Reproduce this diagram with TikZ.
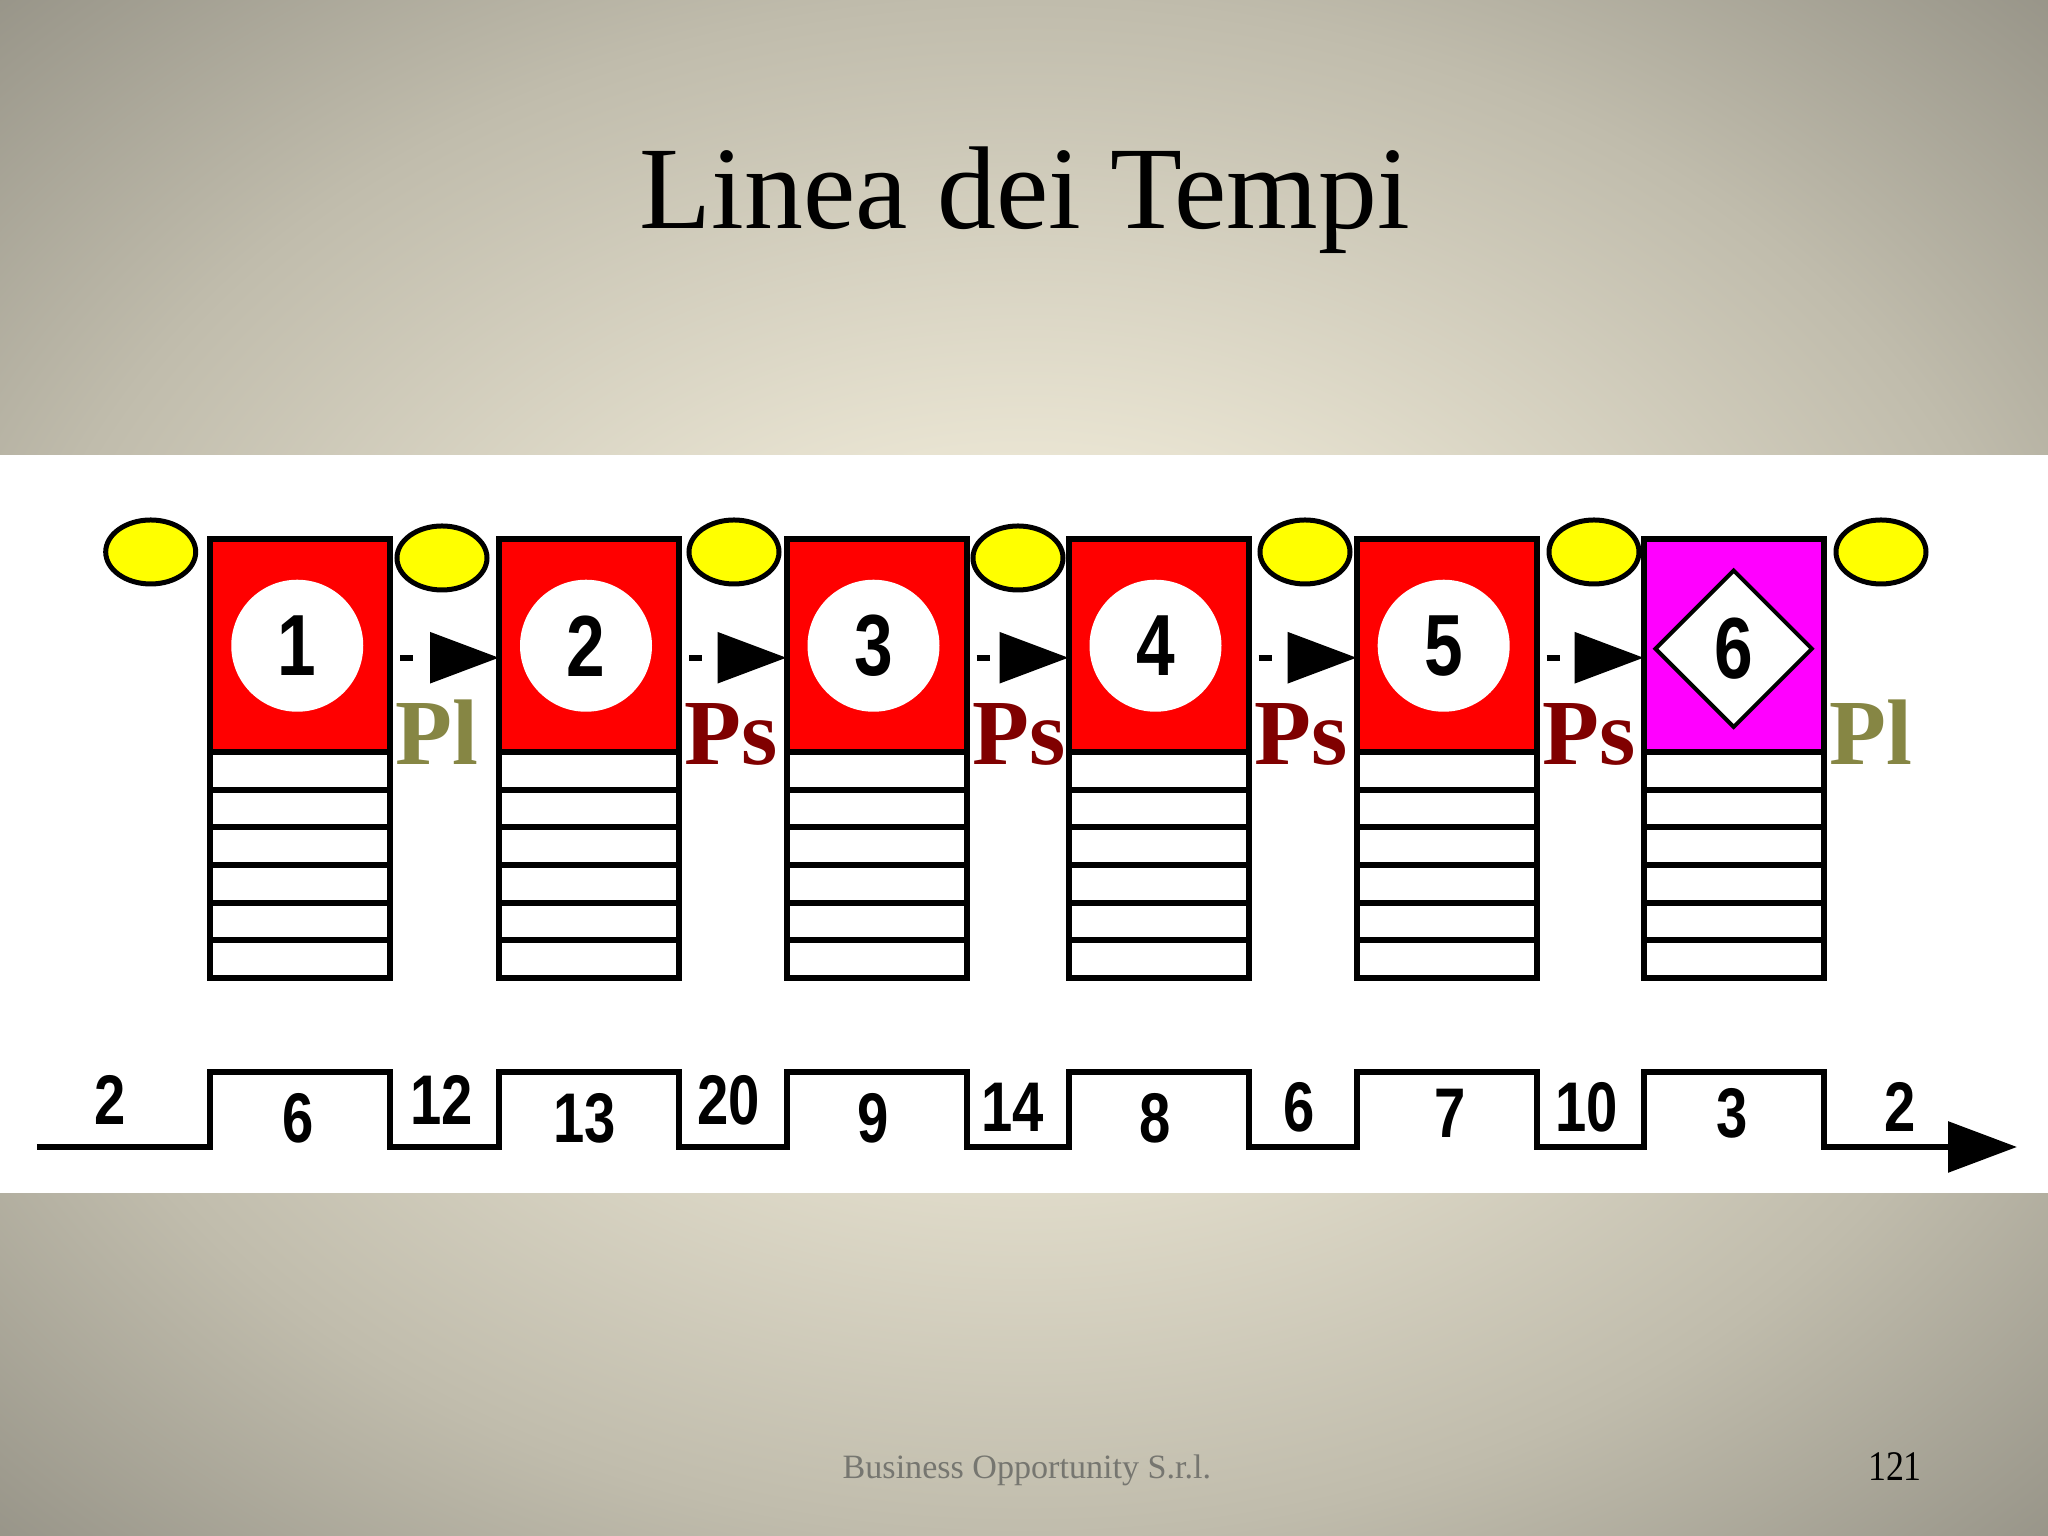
\documentclass[tikz,border=0pt]{standalone}
\usepackage{fontspec}
\usetikzlibrary{arrows.meta,positioning,calc,shapes.geometric}

\newfontfamily\titlefont{Liberation Serif}
\newfontfamily\pagefont[FakeStretch=0.85]{Liberation Serif}
\newfontfamily\numfont[FakeStretch=0.8]{Liberation Sans}

\definecolor{bglight}{RGB}{236,231,213}
\definecolor{bgmid}{RGB}{192,188,172}
\definecolor{bgdark}{RGB}{150,147,135}
\definecolor{slotred}{RGB}{255,0,0}
\definecolor{slotmagenta}{RGB}{255,0,255}
\definecolor{msyellow}{RGB}{255,255,0}
\definecolor{psred}{RGB}{128,0,0}
\definecolor{plolive}{RGB}{134,134,68}
\definecolor{footgray}{RGB}{118,118,112}

\pgfdeclareradialshading{slidebg}{\pgfpoint{0bp}{0bp}}{%
  color(0bp)=(bglight); color(9bp)=(bglight); color(25bp)=(bgmid);
  color(36bp)=(bgdark); color(50bp)=(bgdark)}

\begin{document}
\begin{tikzpicture}[
      taskbox/.style={rectangle,draw=black,line width=0.06cm,fill=slotred,
        minimum width=1.80cm,minimum height=2.125cm,inner sep=0pt,outer sep=0pt},
      listbox/.style={rectangle,draw=black,line width=0.06cm,fill=white,
        minimum width=1.80cm,minimum height=2.26cm,inner sep=0pt,outer sep=0pt},
      rowline/.style={line width=0.06cm},
      badge/.style={circle,fill=white,minimum size=1.32cm,inner sep=0pt,
        font=\numfont\bfseries\fontsize{24.7}{26}\selectfont},
      diamondmark/.style={diamond,draw=black,fill=white,line width=0.04cm,
        minimum width=1.58cm,minimum height=1.58cm,inner sep=0pt,
        font=\numfont\bfseries\fontsize{24.7}{26}\selectfont},
      milestone/.style={ellipse,draw=black,fill=msyellow,line width=0.05cm,
        minimum width=0.90cm,minimum height=0.64cm,inner sep=0pt},
      flow/.style={-{Triangle[length=0.69cm,width=0.5cm]},line width=0.06cm,
        dash pattern=on 0.13cm off 0.23cm,dash phase=0.26cm},
      tag/.style={anchor=base west,inner sep=0pt,
        font=\titlefont\bfseries\fontsize{26.5}{28}\selectfont},
      timeline/.style={-{Triangle[length=0.69cm,width=0.5cm]},line width=0.06cm,
        line join=miter},
      durnum/.style={inner sep=0pt,font=\numfont\bfseries\fontsize{20}{22}\selectfont}
    ]

    \useasboundingbox (0,0) rectangle (20.48,15.36);

    % Slide background
    \shade[shading=slidebg] (0,0) rectangle (20.48,15.36);
    \fill[white] (0,3.43) rectangle (20.48,10.81);

    % Title
    \node[anchor=base] (title) at (10.247,13.07)
      {\titlefont\fontsize{33.5}{40}\selectfont Linea dei Tempi};

    % Activities
    \foreach \x [count=\i] in {3.0025,5.89,8.765,11.585,14.467,17.337} {
      \node[taskbox] (box\i) at (\x,8.9025) {};
      \node[listbox,below=0pt of box\i] (list\i) {};
      \foreach \k in {1,...,5}
        \draw[rowline] ($(list\i.north west)!\k/6!(list\i.south west)$)
          -- ($(list\i.north east)!\k/6!(list\i.south east)$);
    }
    \path (box6) node[taskbox,fill=slotmagenta] {};

    \foreach \i in {1,...,5}
      \node[badge] (num\i) at ($(box\i.center)+(-0.03,0)$) {\i};
    \node[diamondmark] (num6) at ($(box6.center)+(0,-0.03)$) {6};

    % Milestones
    \foreach \x/\y [count=\k] in {1.507/9.84,4.42/9.78,7.34/9.84,10.18/9.78,
                                  13.05/9.84,15.94/9.84,18.81/9.84}
      \node[milestone] (ms\k) at (\x,\y) {};

    % Links
    \foreach \i/\j in {1/2,2/3,3/4,4/5,5/6}
      \draw[flow] ([yshift=-0.12cm]box\i.east) -- ([yshift=-0.12cm]box\j.west);

    \foreach \i/\t/\c in {1/Pl/plolive,2/Ps/psred,3/Ps/psred,
                          4/Ps/psred,5/Ps/psred,6/Pl/plolive}
      \node[tag,text=\c] (lab\i) at ($(box\i.east |- 0,7.71)+(0.05,0)$) {\t};

    % Time axis
    \coordinate (tstart) at (0.37,3.89);
    \coordinate (thigh) at (0,4.64);
    \coordinate (tend) at (20.17,3.89);
    \draw[timeline] (tstart)
      \foreach \i in {1,...,6} { -- (list\i.west |- tstart) -- (list\i.west |- thigh)
        -- (list\i.east |- thigh) -- (list\i.east |- tstart) }
      -- (tend);

    \foreach \x/\y/\n [count=\k] in {1.10/4.36/2,2.98/4.175/6,4.416/4.36/12,
        5.85/4.175/13,7.29/4.36/20,8.73/4.175/9,10.13/4.29/14,11.555/4.175/8,
        12.995/4.29/6,14.50/4.23/7,15.87/4.29/10,17.32/4.23/3,19.00/4.29/2}
      \node[durnum] (dur\k) at (\x,\y) {\n};

    % Footer
    \node[anchor=base west,inner sep=0pt,text=footgray] (footer) at (8.42,0.57)
      {\titlefont\fontsize{9.7}{12}\selectfont Business Opportunity S.r.l.};
    \node[anchor=base,inner sep=0pt] (pageno) at (18.95,0.55)
      {\pagefont\fontsize{12}{14}\selectfont 121};

  \end{tikzpicture}
\end{document}
